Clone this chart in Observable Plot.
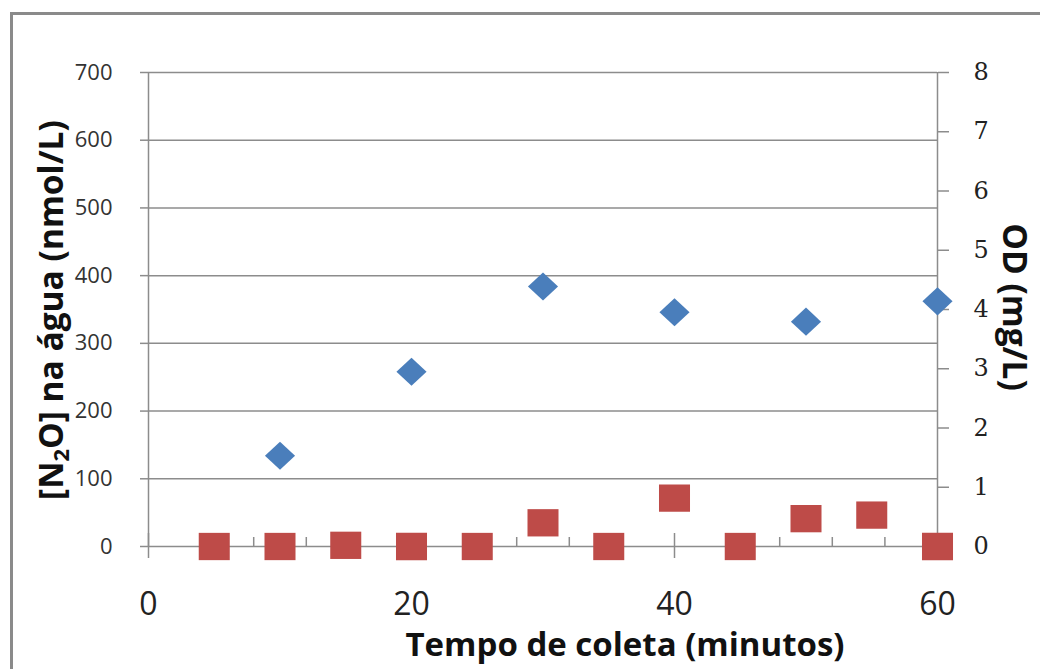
<!DOCTYPE html>
<html><head><meta charset="utf-8">
<script src="https://cdn.jsdelivr.net/npm/d3@7"></script>
<script src="https://cdn.jsdelivr.net/npm/@observablehq/plot@0.6"></script>
<style>
body{margin:0;background:#fff;}
#wrap{position:relative;width:1040px;height:669px;overflow:hidden;background:#fff;}
#frame{position:absolute;left:10px;top:12px;width:1100px;height:700px;border-left:3px solid #8a8a8a;border-top:3px solid #8a8a8a;pointer-events:none;}
</style></head><body><div id="wrap"></div>
<script>
// Data
const n2oTimes = [10, 20, 30, 40, 50, 60];
const n2oValues = [134, 258, 384, 346, 332, 362];           // [N2O] (nmol/L), left axis
const odTimes = [5, 10, 15, 20, 25, 30, 35, 40, 45, 50, 55, 60];
const odValues = [0, 0, 0.02, 0, 0, 0.40, 0, 0.815, 0, 0.47, 0.53, 0]; // OD (mg/L), right axis
const xTicks = [0, 20, 40, 60];
const xMinorTicks = [4, 8, 12, 16, 24, 28, 32, 36, 44, 48, 52, 56];
const leftTicks = [0, 100, 200, 300, 400, 500, 600, 700];
const rightTicks = [0, 1, 2, 3, 4, 5, 6, 7, 8];
const xTitle = "Tempo de coleta (minutos)";
const leftTitleParts = ["[N", "2", "O] na água (nmol/L)"];
const rightTitle = "OD (mg/L)";

const leftMax = 700, rightMax = 8;
const toLeft = v => v * leftMax / rightMax;

const n2oData = n2oTimes.map((t, i) => ({t, v: n2oValues[i]}));
const odData = odTimes.map((t, i) => ({t, v: odValues[i]}));

const diamondSym = {draw(ctx, size) {
  const s = Math.sqrt(size), w = s / 2, h = s * 0.467;
  ctx.moveTo(0, -h); ctx.lineTo(w, 0); ctx.lineTo(0, h); ctx.lineTo(-w, 0); ctx.closePath();
}};
const rectSym = {draw(ctx, size) {
  const s = Math.sqrt(size), w = s / 2, h = s * 0.44;
  ctx.moveTo(-w, -h); ctx.lineTo(w, -h); ctx.lineTo(w, h); ctx.lineTo(-w, h); ctx.closePath();
}};

const gridColor = "#8c8c8c";

const chart = Plot.plot({
  width: 1040, height: 669,
  marginLeft: 148, marginRight: 103, marginTop: 72, marginBottom: 123,
  x: {domain: [0, 60]},
  y: {domain: [0, leftMax]},
  style: {background: "transparent", overflow: "visible"},
  marks: [
    Plot.ruleY(leftTicks, {stroke: gridColor, strokeWidth: 1.5}),
    Plot.ruleX([0, 60], {stroke: gridColor, strokeWidth: 1.5}),
    Plot.axisY(leftTicks, {anchor: "left", tickSize: 8, tickPadding: 28, stroke: gridColor, strokeWidth: 1.5,
      fill: "#333", fontSize: 22, fontFamily: "Open Sans", label: null}),
    Plot.axisY(rightTicks.map(toLeft), {anchor: "right", tickSize: 11, tickPadding: 25, stroke: gridColor, strokeWidth: 1.5,
      tickFormat: d => String(Math.round(d * rightMax / leftMax)),
      fill: "#222", fontSize: 24, fontFamily: "DejaVu Serif", label: null}),
    Plot.axisX(xTicks, {anchor: "bottom", tickSize: 0, tickPadding: 46, fill: "#222", fontSize: 32, fontFamily: "Open Sans", label: null}),
    Plot.axisX(xTicks, {anchor: "bottom", tickSize: 25, dy: -13, fill: "none", stroke: gridColor, strokeWidth: 1.5, label: null}),
    Plot.axisX(xMinorTicks, {anchor: "bottom", tickSize: 9, dy: -9, fill: "none", stroke: gridColor, strokeWidth: 1.5, label: null}),
    Plot.dot(n2oData, {x: "t", y: "v", r: 17, symbol: diamondSym, fill: "#4a7ebb", stroke: "none"}),
    Plot.dot(odData, {x: "t", y: d => toLeft(d.v), r: 17.5, symbol: rectSym, fill: "#be4b48", stroke: "none"})
  ]
});

const svg = d3.select(chart);
const titleFont = "Open Sans";
svg.append("text")
  .attr("x", 625).attr("y", 656)
  .attr("text-anchor", "middle")
  .attr("font-family", titleFont).attr("font-weight", 700).attr("font-size", 33)
  .attr("fill", "#111")
  .text(xTitle);

const lt = svg.append("text")
  .attr("transform", "translate(63,310) rotate(-90)")
  .attr("text-anchor", "middle")
  .attr("font-family", titleFont).attr("font-weight", 700).attr("font-size", 33.5)
  .attr("fill", "#111");
lt.append("tspan").text(leftTitleParts[0]);
lt.append("tspan").attr("font-size", 22).attr("dy", 6).text(leftTitleParts[1]);
lt.append("tspan").attr("dy", -6).text(leftTitleParts[2]);

svg.append("text")
  .attr("transform", "translate(1003,307) rotate(90)")
  .attr("text-anchor", "middle")
  .attr("font-family", titleFont).attr("font-weight", 700).attr("font-size", 33.5)
  .attr("fill", "#111")
  .text(rightTitle);

const wrap = document.getElementById("wrap");
wrap.appendChild(chart);
const frame = document.createElement("div");
frame.id = "frame";
wrap.appendChild(frame);
</script>
</body></html>
